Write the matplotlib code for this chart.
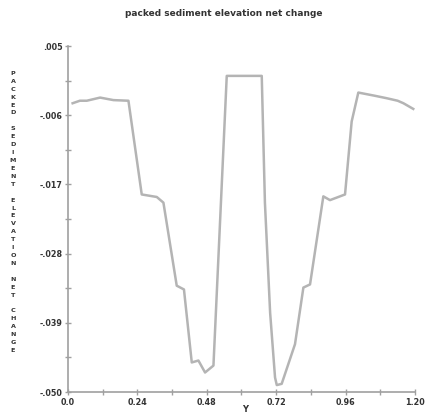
import matplotlib
matplotlib.use("Agg")
import matplotlib.pyplot as plt
from matplotlib.ticker import FixedLocator, FixedFormatter

# data
x_vals = [0.016, 0.041, 0.065, 0.111, 0.157, 0.209, 0.255, 0.307, 0.330, 0.376,
          0.401, 0.428, 0.451, 0.474, 0.503, 0.549, 0.662, 0.670, 0.681, 0.699,
          0.716, 0.722, 0.739, 0.785, 0.814, 0.837, 0.883, 0.906, 0.958, 0.981,
          1.004, 1.060, 1.102, 1.140, 1.160, 1.194]
y_vals = [-0.0041, -0.0037, -0.0037, -0.0032, -0.0036, -0.0037, -0.0186, -0.0190, -0.0199, -0.0331,
          -0.0337, -0.0453, -0.0450, -0.0469, -0.0458, 0.00025, 0.00025, 0.00025, -0.0199, -0.0374,
          -0.0477, -0.0489, -0.0487, -0.0424, -0.0334, -0.0329, -0.0189, -0.0195, -0.0186, -0.0070,
          -0.0024, -0.0029, -0.0033, -0.0037, -0.0041, -0.0050]

x_ticks = [0.0, 0.24, 0.48, 0.72, 0.96, 1.20]
x_ticklabels = ["0.0", "0.24", "0.48", "0.72", "0.96", "1.20"]
x_minor = [0.12, 0.36, 0.60, 0.84, 1.08]
y_ticks = [0.005, -0.006, -0.017, -0.028, -0.039, -0.050]
y_ticklabels = [".005", "-.006", "-.017", "-.028", "-.039", "-.050"]
y_minor = [-0.0005, -0.0115, -0.0225, -0.0335, -0.0445]

title = "packed sediment elevation net change"
ylabel = "PACKED SEDIMENT ELEVATION NET CHANGE"
xlabel = "Y"

W, H = 427, 417
fig = plt.figure(figsize=(W / 100, H / 100), dpi=100)
ax = fig.add_axes([68 / W, (H - 392) / H, (415 - 68) / W, (392 - 46) / H])

line_color = "#b4b4b4"
ax.plot(x_vals, y_vals, color=line_color, lw=1.8, solid_joinstyle="round")

ax.set_xlim(0.0, 1.20)
ax.set_ylim(-0.050, 0.005)

for s in ["top", "right"]:
    ax.spines[s].set_visible(False)
for s in ["left", "bottom"]:
    ax.spines[s].set_color("#a0a0a0")
    ax.spines[s].set_linewidth(1.2)

ax.xaxis.set_major_locator(FixedLocator(x_ticks))
ax.xaxis.set_major_formatter(FixedFormatter(x_ticklabels))
ax.xaxis.set_minor_locator(FixedLocator(x_minor))
ax.yaxis.set_major_locator(FixedLocator(y_ticks))
ax.yaxis.set_major_formatter(FixedFormatter(y_ticklabels))
ax.yaxis.set_minor_locator(FixedLocator(y_minor))

ax.tick_params(which="both", direction="inout", length=4, width=1, color="#a0a0a0",
               labelsize=5.8, labelcolor="#333333", pad=2)
for lab in ax.get_xticklabels() + ax.get_yticklabels():
    lab.set_fontweight("bold")

fig.text(0.5 + 10 / W, 1 - 14 / H, title, ha="center", va="center",
         fontsize=6.5, fontweight="bold", color="#333333")
fig.text(13 / W, 1 - 212 / H, "\n".join(ylabel), ha="center", va="center",
         fontsize=4.6, fontweight="bold", color="#333333", linespacing=1.73)
fig.text(245 / W, 1 - 410 / H, xlabel, ha="center", va="center",
         fontsize=6, fontweight="bold", color="#333333")

fig.savefig("out.png", dpi=100)
